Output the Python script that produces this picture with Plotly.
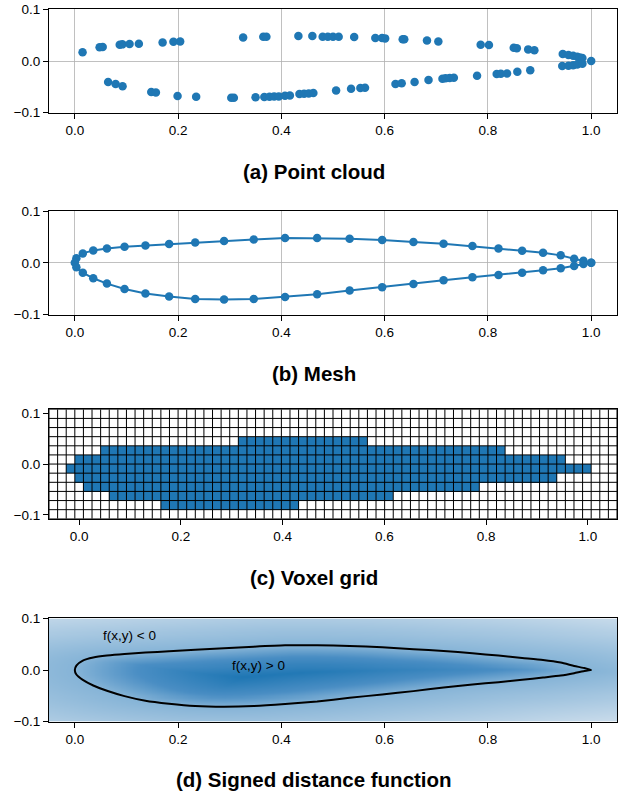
import numpy as np
import plotly.graph_objects as go

# ---------------- data ----------------
# (a) point cloud
pc_upper_x = [0.015, 0.048, 0.054, 0.087, 0.092, 0.106, 0.124, 0.170, 0.191, 0.204, 0.326, 0.365, 0.371,
              0.433, 0.460, 0.480, 0.490, 0.500, 0.511, 0.541, 0.582, 0.595, 0.601, 0.635, 0.638, 0.682,
              0.704, 0.786, 0.802, 0.850, 0.856, 0.878, 0.890, 0.945, 0.956, 0.965, 0.973, 0.978, 0.983, 1.000]
pc_upper_y = [0.017, 0.0265, 0.027, 0.0316, 0.0323, 0.033, 0.0335, 0.036, 0.0374, 0.038, 0.0458, 0.047, 0.047,
              0.0484, 0.0484, 0.047, 0.047, 0.047, 0.047, 0.0465, 0.0445, 0.0445, 0.0439, 0.042, 0.042, 0.040,
              0.038, 0.0316, 0.031, 0.0258, 0.025, 0.0226, 0.021, 0.0135, 0.0116, 0.0103, 0.0084, 0.007, 0.006, 0.0]
pc_lower_x = [0.0645, 0.079, 0.0925, 0.148, 0.157, 0.199, 0.235, 0.303, 0.308, 0.350, 0.367, 0.377, 0.386,
              0.395, 0.407, 0.4165, 0.435, 0.444, 0.453, 0.462, 0.506, 0.535, 0.553, 0.562, 0.621, 0.633,
              0.658, 0.685, 0.712, 0.718, 0.726, 0.734, 0.779, 0.817, 0.825, 0.837, 0.857, 0.882, 0.944,
              0.956, 0.965, 0.973, 0.983]
pc_lower_y = [-0.0406, -0.0445, -0.049, -0.060, -0.061, -0.0677, -0.069, -0.071, -0.071, -0.0703, -0.0697,
              -0.069, -0.0684, -0.0684, -0.067, -0.0665, -0.0639, -0.0632, -0.0626, -0.0619, -0.0568, -0.0535,
              -0.052, -0.0516, -0.0445, -0.0432, -0.0406, -0.0368, -0.0342, -0.0335, -0.0329, -0.0323, -0.0284,
              -0.0252, -0.0245, -0.0239, -0.0206, -0.018, -0.0097, -0.009, -0.008, -0.0065, -0.005]

# (b) mesh (upper and lower surfaces share x stations)
mesh_x = [0.0, 0.003, 0.0155, 0.0357, 0.0622, 0.0963, 0.1368, 0.1826, 0.2331, 0.289, 0.3465, 0.4072, 0.4693,
          0.5322, 0.5952, 0.6558, 0.7141, 0.770, 0.8205, 0.8663, 0.9068, 0.941, 0.967, 0.985, 1.0]
mesh_upper_y = [0.0, 0.0087, 0.0183, 0.0241, 0.0280, 0.0312, 0.0338, 0.0363, 0.0395, 0.0421, 0.0453, 0.0479,
                0.0479, 0.0466, 0.0441, 0.0402, 0.0370, 0.0325, 0.0280, 0.0235, 0.0196, 0.0145, 0.0080, 0.0042, 0.0]
mesh_lower_y = [0.0, -0.0087, -0.019, -0.0299, -0.0402, -0.0505, -0.0595, -0.0653, -0.0698, -0.0711, -0.0698,
                -0.0659, -0.0608, -0.0537, -0.0473, -0.0408, -0.0338, -0.0280, -0.0235, -0.0190, -0.0145,
                -0.0106, -0.0060, -0.0023, 0.0]

# (c) voxel grid: 66 columns x 12 rows, filled column ranges per row (row 0 = bottom)
vox_x0, vox_dx, vox_nx = -0.059, 0.01691, 66
vox_y0, vox_dy, vox_ny = -0.1077, 0.01795, 12
vox_filled = {1: (13, 28), 2: (7, 39), 3: (4, 49), 4: (3, 58), 5: (2, 62), 6: (3, 59), 7: (6, 52), 8: (22, 36)}

# (d) signed distance evaluated on a grid whose cells are stretched in y
sdf_y_stretch = 5.5

# ticks
x_ticks = [0.0, 0.2, 0.4, 0.6, 0.8, 1.0]
x_ticklabels = ["0.0", "0.2", "0.4", "0.6", "0.8", "1.0"]
y_ticks = [-0.1, 0.0, 0.1]
y_ticklabels = ["\u22120.1", "0.0", "0.1"]

titles = ["(a) Point cloud", "(b) Mesh", "(c) Voxel grid", "(d) Signed distance function"]

BLUE = "#1f77b4"
FONT = "Liberation Sans, Arial, sans-serif"

# ---------------- derived ----------------
outline_x = list(mesh_x[::-1]) + list(mesh_x[1:])
outline_y = list(mesh_upper_y[::-1]) + list(mesh_lower_y[1:])

x_edges = vox_x0 + vox_dx * np.arange(vox_nx + 1)
y_edges = vox_y0 + vox_dy * np.arange(vox_ny + 1)
vox = np.zeros((vox_ny, vox_nx))
for r, (c0, c1) in vox_filled.items():
    vox[r, c0:c1 + 1] = 1

# signed distance field from mesh outline
gx = np.linspace(-0.05, 1.05, 331)
gy = np.linspace(-0.1, 0.1, 101)
GX, GY = np.meshgrid(gx, gy)
P = np.stack([GX.ravel(), GY.ravel() * sdf_y_stretch], axis=1)
ox = np.array(outline_x); oy = np.array(outline_y) * sdf_y_stretch
A = np.stack([ox[:-1], oy[:-1]], axis=1)
B = np.stack([ox[1:], oy[1:]], axis=1)
dmin = np.full(P.shape[0], np.inf)
for a, b in zip(A, B):
    ab = b - a
    L2 = ab @ ab
    if L2 == 0:
        continue
    t = np.clip(((P - a) @ ab) / L2, 0, 1)
    proj = a + t[:, None] * ab
    d = np.hypot(*(P - proj).T)
    dmin = np.minimum(dmin, d)
up = np.interp(GX.ravel(), mesh_x, mesh_upper_y)
lo = np.interp(GX.ravel(), mesh_x, mesh_lower_y)
inside = (GX.ravel() >= 0) & (GX.ravel() <= 1) & (GY.ravel() < up) & (GY.ravel() > lo)
sdf = np.where(inside, dmin, -dmin).reshape(GX.shape)

# grid lines for voxel plot
gl_x, gl_y = [], []
for xe in x_edges:
    gl_x += [xe, xe, None]; gl_y += [y_edges[0], y_edges[-1], None]
for ye in y_edges:
    gl_x += [x_edges[0], x_edges[-1], None]; gl_y += [ye, ye, None]

# ---------------- figure ----------------
W, H = 627, 794
ML, MR = 49, 10
PW = W - ML - MR

def py(p):
    return 1 - p / H

boxes = [(9.4, 112.7), (211.2, 314.5), (409.3, 518.8), (618.4, 721.7)]
xranges = [[-0.05, 1.05], [-0.05, 1.05], [x_edges[0], x_edges[-1]], [-0.05, 1.05]]
yranges = [[-0.1, 0.1], [-0.1, 0.1], [y_edges[0], y_edges[-1]], [-0.1, 0.1]]
grids = [True, True, False, False]
title_y = [171.5, 373.3, 577.6, 779.5]

fig = go.Figure()

fig.add_trace(go.Scatter(x=pc_upper_x + pc_lower_x, y=pc_upper_y + pc_lower_y, mode="markers",
                         marker=dict(color=BLUE, size=8.5, line=dict(width=0)),
                         xaxis="x", yaxis="y", showlegend=False))

fig.add_trace(go.Scatter(x=outline_x, y=outline_y, mode="lines+markers",
                         line=dict(color=BLUE, width=2),
                         marker=dict(color=BLUE, size=8.5, line=dict(width=0)),
                         xaxis="x2", yaxis="y2", showlegend=False))

fig.add_trace(go.Heatmap(z=vox, x=x_edges, y=y_edges, colorscale=[[0, "white"], [1, BLUE]],
                         zmin=0, zmax=1, showscale=False, xaxis="x3", yaxis="y3", hoverinfo="skip"))
fig.add_trace(go.Scatter(x=gl_x, y=gl_y, mode="lines", line=dict(color="black", width=1),
                         xaxis="x3", yaxis="y3", showlegend=False, hoverinfo="skip"))

zmin, zmax = -0.5, 0.3
def frac(v):
    return (v - zmin) / (zmax - zmin)
cs = [[0.0, "#cddeec"], [frac(0.0), "#86b4d7"], [frac(0.12), "#4a8ec4"], [1.0, "#1f77b4"]]
fig.add_trace(go.Heatmap(z=sdf, x=gx, y=gy, colorscale=cs, zmin=zmin, zmax=zmax, zsmooth="best",
                         showscale=False, xaxis="x4", yaxis="y4", hoverinfo="skip"))
fig.add_trace(go.Scatter(x=outline_x, y=outline_y, mode="lines",
                         line=dict(color="black", width=2, shape="spline", smoothing=0.6),
                         xaxis="x4", yaxis="y4", showlegend=False))

layout = dict(width=W, height=H, margin=dict(l=ML, r=MR, t=0, b=0, autoexpand=False),
              paper_bgcolor="white",
              plot_bgcolor="white", font=dict(family=FONT, color="black"), showlegend=False)

for i in range(4):
    sfx = "" if i == 0 else str(i + 1)
    top, bot = boxes[i]
    common = dict(automargin=False, showline=True, mirror=True, linecolor="black", linewidth=1,
                  ticks="outside", ticklen=5, tickwidth=1, tickcolor="black", ticklabeloverflow="allow",
                  showgrid=grids[i], gridcolor="#b0b0b0", gridwidth=0.8, zeroline=False,
                  tickfont=dict(size=13.5, color="black", family=FONT))
    layout["xaxis" + sfx] = dict(domain=[0, 1], range=xranges[i], anchor="y" + sfx,
                                 tickvals=x_ticks, ticktext=x_ticklabels, **common)
    layout["yaxis" + sfx] = dict(domain=[py(bot), py(top)], range=yranges[i], anchor="x" + sfx,
                                 tickvals=y_ticks, ticktext=y_ticklabels, **common)

annotations = []
cx = (W / 2 - ML) / PW
for t, ty in zip(titles, title_y):
    annotations.append(dict(text="<b>" + t + "</b>", x=cx, y=py(ty), xref="paper", yref="paper",
                            xanchor="center", yanchor="middle", showarrow=False,
                            font=dict(size=20.5, color="black", family=FONT)))
annotations.append(dict(text="f(x,y) < 0", x=0.05, y=0.0675, xref="x4", yref="y4", xanchor="left",
                        yanchor="middle", showarrow=False, font=dict(size=13.5, color="black", family=FONT)))
annotations.append(dict(text="f(x,y) > 0", x=0.30, y=0.009, xref="x4", yref="y4", xanchor="left",
                        yanchor="middle", showarrow=False, font=dict(size=13.5, color="black", family=FONT)))
layout["annotations"] = annotations

fig.update_layout(**layout)
fig.write_html("out.html", config={"displayModeBar": False, "staticPlot": True},
               post_script="document.body.style.margin='0';")
